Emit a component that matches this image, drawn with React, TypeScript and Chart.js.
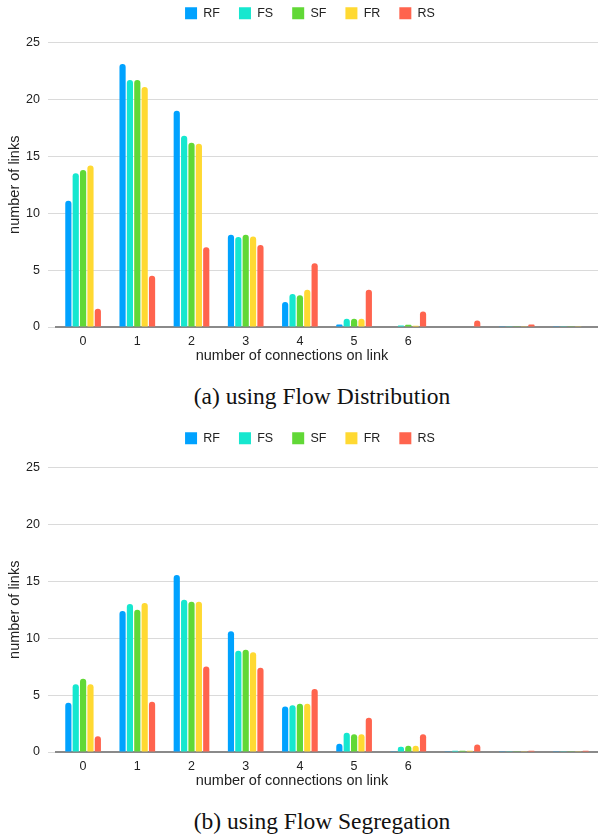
import React, { useEffect, useRef } from "react";
import { Chart, registerables } from "chart.js";

Chart.register(...registerables);

const categories = ["0", "1", "2", "3", "4", "5", "6", "", "", ""];
const seriesNames = ["RF", "FS", "SF", "FR", "RS"];
const seriesColors = ["#00A2FF", "#16E7CF", "#61D836", "#FFD932", "#FF644E"];
const yTicks = [0, 5, 10, 15, 20, 25];

// (a) using Flow Distribution
const distRF = [11.1, 23.1, 19.0, 8.1, 2.2, 0.22, 0.04, 0.04, 0.03, 0.03];
const distFS = [13.5, 21.7, 16.8, 7.9, 2.9, 0.72, 0.13, 0.04, 0.03, 0.03];
const distSF = [13.8, 21.7, 16.2, 8.1, 2.8, 0.72, 0.2, 0.04, 0.03, 0.03];
const distFR = [14.2, 21.1, 16.1, 7.95, 3.27, 0.72, 0.1, 0.04, 0.03, 0.03];
const distRS = [1.6, 4.5, 7.0, 7.2, 5.6, 3.27, 1.36, 0.57, 0.22, 0.04];

// (b) using Flow Segregation
const segRF = [4.33, 12.4, 15.56, 10.6, 4.0, 0.73, 0.03, 0.03, 0.03, 0.03];
const segFS = [5.96, 13.0, 13.37, 8.9, 4.1, 1.7, 0.47, 0.1, 0.03, 0.03];
const segSF = [6.43, 12.5, 13.2, 8.98, 4.24, 1.55, 0.56, 0.1, 0.03, 0.03];
const segFR = [5.96, 13.1, 13.2, 8.77, 4.24, 1.55, 0.56, 0.1, 0.03, 0.03];
const segRS = [1.38, 4.42, 7.52, 7.4, 5.53, 3.0, 1.55, 0.65, 0.12, 0.12];

const xTitle = "number of connections on link";
const yTitle = "number of links";
const captionA = "(a) using Flow Distribution";
const captionB = "(b) using Flow Segregation";

const SANS = "'Liberation Sans', Arial, Helvetica, sans-serif";
const TEXT = "#222";

const legendGap = {
  id: "legendGap",
  beforeLayout(chart: any) {
    const lg = chart.legend;
    if (lg && !lg.__patched) {
      const fit = lg.fit;
      lg.fit = function () {
        fit.call(this);
        this.height += 13;
      };
      lg.__patched = true;
    }
  },
};

function BarChart({ series }: { series: number[][] }) {
  const ref = useRef<HTMLCanvasElement | null>(null);
  useEffect(() => {
    if (!ref.current) return;
    const chart = new Chart(ref.current, {
      type: "bar",
      data: {
        labels: categories,
        datasets: seriesNames.map((name, i) => ({
          label: name,
          data: series[i],
          backgroundColor: seriesColors[i],
          borderWidth: 0,
          borderRadius: 3,
          borderSkipped: "start",
          categoryPercentage: 0.68,
          barPercentage: 0.84,
        })),
      },
      options: {
        animation: false,
        responsive: false,
        devicePixelRatio: 1,
        layout: { padding: { top: -12, left: 22, right: 0, bottom: 0 } },
        plugins: {
          legend: {
            display: true,
            position: "top",
            labels: {
              boxWidth: 12,
              boxHeight: 12,
              padding: 19,
              color: TEXT,
              font: { family: SANS, size: 12.5 },
            },
          },
          tooltip: { enabled: false },
        },
        scales: {
          x: {
            grid: { display: false, drawTicks: false, tickLength: 0 },
            border: { display: true, color: "#8a8a8a", width: 2 },
            ticks: {
              color: TEXT,
              padding: 7.5,
              font: { family: SANS, size: 12.5 },
              autoSkip: false,
              maxRotation: 0,
            },
            afterFit: (s: any) => {
              s.height = 35;
            },
          },
          y: {
            min: 0,
            max: 25,
            afterBuildTicks: (s: any) => {
              s.ticks = yTicks.map((v) => ({ value: v }));
            },
            grid: { color: "#dadada", lineWidth: 1, drawTicks: true, tickLength: 8 },
            border: { display: false },
            ticks: {
              color: TEXT,
              padding: 8,
              font: { family: SANS, size: 12.5 },
            },
            title: {
              display: true,
              text: yTitle,
              color: TEXT,
              font: { family: SANS, size: 14.5 },
              padding: { top: -15.7, bottom: 0 },
            },
            afterFit: (s: any) => {
              s.width = 34;
            },
          },
        },
      },
      plugins: [legendGap],
    });
    return () => chart.destroy();
  }, [series]);
  return <canvas ref={ref} width={598} height={362} style={{ display: "block" }} />;
}

function Block({ top, series, caption }: { top: number; series: number[][]; caption: string }) {
  return (
    <div style={{ position: "absolute", left: 0, top, width: 598, height: 425 }}>
      <BarChart series={series} />
      <div
        style={{
          position: "absolute",
          left: 0,
          width: 584,
          top: 346,
          lineHeight: "18px",
          textAlign: "center",
          fontFamily: SANS,
          fontSize: 14.5,
          color: TEXT,
          whiteSpace: "nowrap",
        }}
      >
        {xTitle}
      </div>
      <div
        style={{
          position: "absolute",
          left: 50,
          width: 544,
          top: 382,
          lineHeight: "28px",
          textAlign: "center",
          fontFamily: "'Liberation Serif', 'Times New Roman', serif",
          fontSize: 23.5,
          color: "#111",
          whiteSpace: "nowrap",
        }}
      >
        {caption}
      </div>
    </div>
  );
}

export default function App() {
  useEffect(() => {
    document.body.style.margin = "0";
  }, []);
  const seriesA = [distRF, distFS, distSF, distFR, distRS];
  const seriesB = [segRF, segFS, segSF, segFR, segRS];
  return (
    <div style={{ position: "relative", width: 598, height: 836, overflow: "hidden", background: "#fff" }}>
      <Block top={0} series={seriesA} caption={captionA} />
      <Block top={425} series={seriesB} caption={captionB} />
    </div>
  );
}
